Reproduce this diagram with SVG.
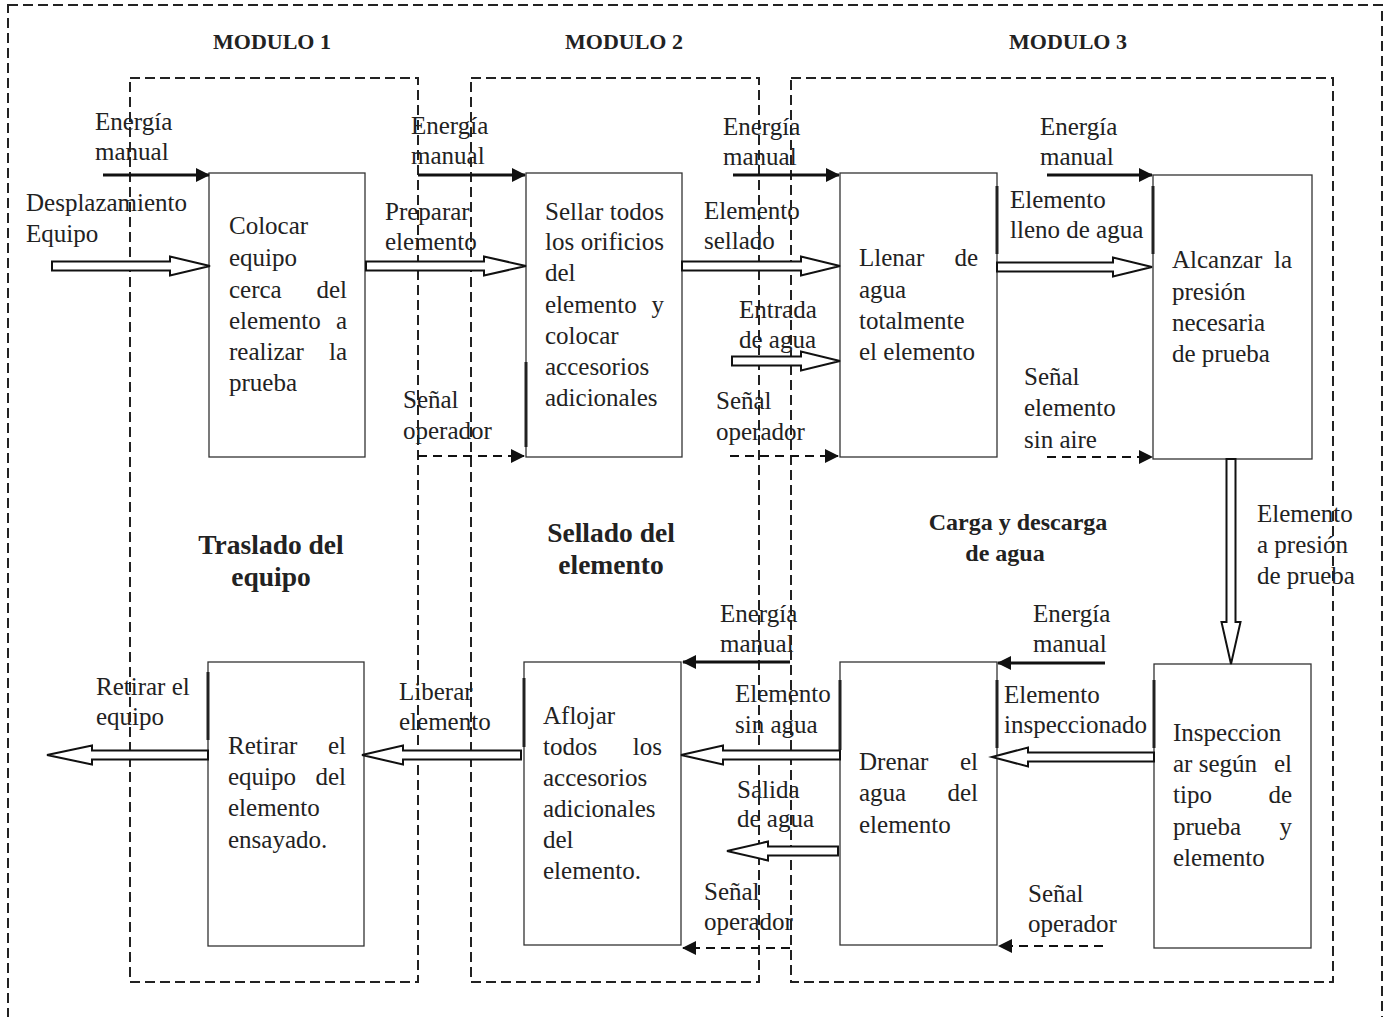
<svg xmlns="http://www.w3.org/2000/svg" width="1388" height="1017" viewBox="0 0 1388 1017">
  <style>
    .frame { fill: none; stroke: #222; stroke-width: 2; stroke-dasharray: 10 5; }
    .box { fill: #fff; stroke: #333; stroke-width: 1.3; }
    .edge { stroke: #222; stroke-width: 3; }
    .flow { fill: #fff; stroke: #111; stroke-width: 2; stroke-linejoin: miter; }
    .solid { stroke: #111; stroke-width: 3; fill: none; }
    .dash { stroke: #111; stroke-width: 2; fill: none; stroke-dasharray: 9 6; }
    text { font-family: "Liberation Serif", "Times New Roman", serif; font-size: 25px; fill: #222; }
    .hd { font-weight: bold; font-size: 22px; text-anchor: middle; }
    .ttl { font-weight: bold; font-size: 27.5px; text-anchor: middle; }
    .ttl2 { font-weight: bold; font-size: 24px; text-anchor: middle; }
    .r { text-anchor: end; }
  </style>
  <defs>
    <marker id="tri" markerWidth="14" markerHeight="14" refX="13" refY="7" orient="auto" markerUnits="userSpaceOnUse">
      <path d="M0,0 L14,7 L0,14 Z" fill="#111"/>
    </marker>
  </defs>

  <!-- outer frame and module areas -->
  <g id="frames">
    <rect class="frame" x="8" y="5" width="1374" height="1030"/>
    <rect class="frame" x="130" y="78" width="288" height="904"/>
    <rect class="frame" x="471" y="78" width="288" height="904"/>
    <rect class="frame" x="791" y="78" width="542" height="904"/>
  </g>

  <g id="headers">
    <text class="hd" x="272" y="49">MODULO 1</text>
    <text class="hd" x="624" y="49">MODULO 2</text>
    <text class="hd" x="1068" y="49">MODULO 3</text>
    <text class="ttl" x="271" y="554">Traslado del</text>
    <text class="ttl" x="271" y="586">equipo</text>
    <text class="ttl" x="611" y="542">Sellado del</text>
    <text class="ttl" x="611" y="574">elemento</text>
    <text class="ttl2" x="1018" y="530">Carga y descarga</text>
    <text class="ttl2" x="1005" y="561">de agua</text>
  </g>

  <!-- process boxes -->
  <g id="colocar">
    <rect class="box" x="209" y="173" width="156" height="284"/>
    <text x="229" y="234">Colocar</text>
    <text x="229" y="266">equipo</text>
    <text x="229" y="298">cerca</text><text class="r" x="347" y="298">del</text>
    <text x="229" y="329">elemento</text><text class="r" x="347" y="329">a</text>
    <text x="229" y="360">realizar</text><text class="r" x="347" y="360">la</text>
    <text x="229" y="391">prueba</text>
  </g>

  <g id="sellar">
    <rect class="box" x="526" y="173" width="156" height="284"/>
    <line class="edge" x1="526" y1="362" x2="526" y2="447"/>
    <text x="545" y="220">Sellar</text><text class="r" x="664" y="220">todos</text>
    <text x="545" y="250">los</text><text class="r" x="664" y="250">orificios</text>
    <text x="545" y="281">del</text>
    <text x="545" y="313">elemento</text><text class="r" x="664" y="313">y</text>
    <text x="545" y="344">colocar</text>
    <text x="545" y="375">accesorios</text>
    <text x="545" y="406">adicionales</text>
  </g>

  <g id="llenar">
    <rect class="box" x="840" y="173" width="157" height="284"/>
    <line class="edge" x1="997" y1="186" x2="997" y2="254"/>
    <text x="859" y="266">Llenar</text><text class="r" x="978" y="266">de</text>
    <text x="859" y="298">agua</text>
    <text x="859" y="329">totalmente</text>
    <text x="859" y="360">el elemento</text>
  </g>

  <g id="alcanzar">
    <rect class="box" x="1153" y="175" width="159" height="284"/>
    <line class="edge" x1="1153" y1="186" x2="1153" y2="254"/>
    <text x="1172" y="268">Alcanzar</text><text class="r" x="1292" y="268">la</text>
    <text x="1172" y="300">presión</text>
    <text x="1172" y="331">necesaria</text>
    <text x="1172" y="362">de prueba</text>
  </g>

  <g id="inspeccionar">
    <rect class="box" x="1154" y="664" width="157" height="284"/>
    <line class="edge" x1="1154" y1="680" x2="1154" y2="748"/>
    <text x="1173" y="741">Inspeccion</text>
    <text x="1173" y="772">ar según</text><text class="r" x="1292" y="772">el</text>
    <text x="1173" y="803">tipo</text><text class="r" x="1292" y="803">de</text>
    <text x="1173" y="835">prueba</text><text class="r" x="1292" y="835">y</text>
    <text x="1173" y="866">elemento</text>
  </g>

  <g id="drenar">
    <rect class="box" x="840" y="662" width="157" height="283"/>
    <line class="edge" x1="840" y1="680" x2="840" y2="750"/>
    <line class="edge" x1="997" y1="680" x2="997" y2="748"/>
    <text x="859" y="770">Drenar</text><text class="r" x="978" y="770">el</text>
    <text x="859" y="801">agua</text><text class="r" x="978" y="801">del</text>
    <text x="859" y="833">elemento</text>
  </g>

  <g id="aflojar">
    <rect class="box" x="524" y="662" width="157" height="283"/>
    <line class="edge" x1="524" y1="678" x2="524" y2="747"/>
    <text x="543" y="724">Aflojar</text>
    <text x="543" y="755">todos</text><text class="r" x="662" y="755">los</text>
    <text x="543" y="786">accesorios</text>
    <text x="543" y="817">adicionales</text>
    <text x="543" y="848">del</text>
    <text x="543" y="879">elemento.</text>
  </g>

  <g id="retirar">
    <rect class="box" x="208" y="662" width="156" height="284"/>
    <line class="edge" x1="208" y1="672" x2="208" y2="740"/>
    <text x="228" y="754">Retirar</text><text class="r" x="346" y="754">el</text>
    <text x="228" y="785">equipo</text><text class="r" x="346" y="785">del</text>
    <text x="228" y="816">elemento</text>
    <text x="228" y="848">ensayado.</text>
  </g>

  <!-- connectors -->
  <g id="connectors">
    <!-- material flow (hollow block arrows) -->
    <path class="flow" d="M52,261.5 H170 V256.5 L210,266 L170,275.5 V270.5 H52 Z"/>
    <path class="flow" d="M366,261.5 H484 V256.5 L526,266 L484,275.5 V270.5 H366 Z"/>
    <path class="flow" d="M682,261.5 H801 V256.5 L840,266 L801,275.5 V270.5 H682 Z"/>
    <path class="flow" d="M732,356.5 H801 V351.5 L840,361 L801,370.5 V365.5 H732 Z"/>
    <path class="flow" d="M997,262.5 H1113 V257.5 L1152,267 L1113,276.5 V271.5 H997 Z"/>
    <path class="flow" d="M1226.5,459 V622 H1221.5 L1231,664 L1240.5,622 H1235.5 V459 Z"/>
    <path class="flow" d="M1154,752.5 H1028 V747.5 L992,757 L1028,766.5 V761.5 H1154 Z"/>
    <path class="flow" d="M840,750.5 H723 V745.5 L681,755 L723,764.5 V759.5 H840 Z"/>
    <path class="flow" d="M838,846.5 H768 V841.5 L727,851 L768,860.5 V855.5 H838 Z"/>
    <path class="flow" d="M521,750.5 H403 V745.5 L362,755 L403,764.5 V759.5 H521 Z"/>
    <path class="flow" d="M208,750.5 H92 V745.5 L47,755 L92,764.5 V759.5 H208 Z"/>

    <!-- energy inputs -->
    <line class="solid" x1="103" y1="175" x2="209" y2="175" marker-end="url(#tri)"/>
    <line class="solid" x1="418" y1="175" x2="525" y2="175" marker-end="url(#tri)"/>
    <line class="solid" x1="733" y1="175" x2="839" y2="175" marker-end="url(#tri)"/>
    <line class="solid" x1="1047" y1="175" x2="1152" y2="175" marker-end="url(#tri)"/>
    <line class="solid" x1="790" y1="662" x2="683" y2="662" marker-end="url(#tri)"/>
    <line class="solid" x1="1105" y1="663" x2="998" y2="663" marker-end="url(#tri)"/>

    <!-- signals -->
    <line class="dash" x1="418" y1="456" x2="524" y2="456" marker-end="url(#tri)"/>
    <line class="dash" x1="730" y1="456" x2="838" y2="456" marker-end="url(#tri)"/>
    <line class="dash" x1="1047" y1="457" x2="1152" y2="457" marker-end="url(#tri)"/>
    <line class="dash" x1="790" y1="948" x2="683" y2="948" marker-end="url(#tri)"/>
    <line class="dash" x1="1103" y1="946" x2="999" y2="946" marker-end="url(#tri)"/>
  </g>

  <!-- connector labels -->
  <g id="labels">
    <text x="95" y="130">Energía</text>
    <text x="95" y="160">manual</text>
    <text x="26" y="211">Desplazamiento</text>
    <text x="26" y="242">Equipo</text>

    <text x="411" y="134">Energía</text>
    <text x="411" y="164">manual</text>
    <text x="385" y="220">Preparar</text>
    <text x="385" y="250">elemento</text>
    <text x="403" y="408">Señal</text>
    <text x="403" y="439">operador</text>

    <text x="723" y="135">Energía</text>
    <text x="723" y="165">manual</text>
    <text x="704" y="219">Elemento</text>
    <text x="704" y="249">sellado</text>
    <text x="739" y="318">Entrada</text>
    <text x="739" y="348">de agua</text>
    <text x="716" y="409">Señal</text>
    <text x="716" y="440">operador</text>

    <text x="1040" y="135">Energía</text>
    <text x="1040" y="165">manual</text>
    <text x="1010" y="208">Elemento</text>
    <text x="1010" y="238">lleno de agua</text>
    <text x="1024" y="385">Señal</text>
    <text x="1024" y="416">elemento</text>
    <text x="1024" y="448">sin aire</text>

    <text x="1257" y="522">Elemento</text>
    <text x="1257" y="553">a presión</text>
    <text x="1257" y="584">de prueba</text>

    <text x="1033" y="622">Energía</text>
    <text x="1033" y="652">manual</text>
    <text x="1004" y="703">Elemento</text>
    <text x="1004" y="733">inspeccionado</text>
    <text x="1028" y="902">Señal</text>
    <text x="1028" y="932">operador</text>

    <text x="720" y="622">Energía</text>
    <text x="720" y="652">manual</text>
    <text x="735" y="702">Elemento</text>
    <text x="735" y="733">sin agua</text>
    <text x="737" y="798">Salida</text>
    <text x="737" y="827">de agua</text>
    <text x="704" y="900">Señal</text>
    <text x="704" y="930">operador</text>

    <text x="399" y="700">Liberar</text>
    <text x="399" y="730">elemento</text>
    <text x="96" y="695">Retirar el</text>
    <text x="96" y="725">equipo</text>
  </g>
</svg>
